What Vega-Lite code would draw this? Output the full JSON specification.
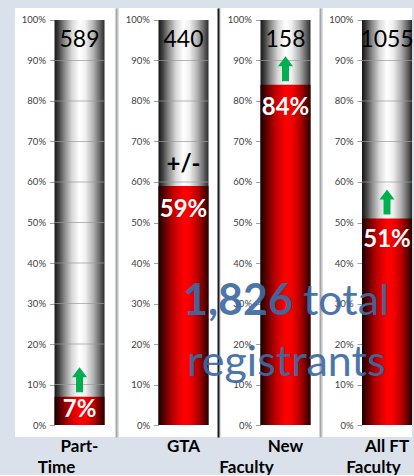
{
  "$schema": "https://vega.github.io/schema/vega-lite/v6.json",
  "background": "#dae1eb",
  "padding": {"left": 15, "top": 8, "right": 0, "bottom": 0},
  "spacing": 3,
  "bounds": "flush",
  "datasets": {
    "bars": [
      {"l1": "Part-", "l2": "Time", "count": "589", "pct": 0.07, "marker": "up"},
      {"l1": "GTA", "l2": "", "count": "440", "pct": 0.59, "marker": "+/-"},
      {"l1": "New", "l2": "Faculty", "count": "158", "pct": 0.84, "marker": "up"},
      {"l1": "All FT", "l2": "Faculty", "count": "1055", "pct": 0.51, "marker": "up"}
    ],
    "grid": [{"g": 0.1}, {"g": 0.2}, {"g": 0.3}, {"g": 0.4}, {"g": 0.5}, {"g": 0.6}, {"g": 0.7}, {"g": 0.8}, {"g": 0.9}],
    "note": [{"total": "1,826", "w1": "total", "w2": "registrants"}]
  },
  "data": {"name": "bars"},
  "hconcat": [
    {
      "width": 101, "height": 429,
      "view": {"fill": "white", "stroke": null},
      "transform": [{"filter": "datum.l1 === 'Part-'"}],
      "layer": [
        {"mark": {"type": "bar", "color": {"gradient": "linear", "x1": 0, "x2": 1, "y1": 0, "y2": 0, "stops": [{"offset": 0, "color": "#161616"}, {"offset": 0.08, "color": "#3e3e3e"}, {"offset": 0.2, "color": "#8a8a8a"}, {"offset": 0.35, "color": "#d8d8d8"}, {"offset": 0.5, "color": "#ffffff"}, {"offset": 0.62, "color": "#f0f0f0"}, {"offset": 0.78, "color": "#b0b0b0"}, {"offset": 0.9, "color": "#6a6a6a"}, {"offset": 1, "color": "#2a2a2a"}]}},
         "encoding": {
           "x": {"field": "l1", "type": "nominal", "scale": {"paddingInner": 0, "paddingOuter": 0.51, "align": 0.775}, "axis": {"title": "Time", "titleX": 41, "labelDx": 8}},
           "y": {"datum": 1, "type": "quantitative", "scale": {"domain": [-0.0296, 1.0296], "nice": false, "zero": false}, "axis": {"orient": "left", "offset": -39.5, "values": [0, 0.1, 0.2, 0.3, 0.4, 0.5, 0.6, 0.7, 0.8, 0.9, 1], "format": ".0%", "domain": false, "grid": false, "ticks": true, "tickSize": 5, "tickColor": "#a0a0a0", "labelPadding": 4, "labelFont": "Lato", "labelFontSize": 9.5, "labelColor": "#404040", "title": null, "minExtent": 0}},
           "y2": {"datum": 0}
         }},
        {"data": {"name": "grid"},
         "mark": {"type": "tick", "size": 50, "thickness": 1, "color": "#9a9a9a", "orient": "horizontal"},
         "encoding": {
           "x": {"datum": "Part-", "type": "nominal"},
           "y": {"field": "g", "type": "quantitative", "axis": {"orient": "right", "domain": true, "domainColor": "#a6a6a6", "domainWidth": 2, "ticks": false, "labels": false, "grid": false, "title": null, "minExtent": 0}}
         }},
        {"mark": {"type": "bar", "color": {"gradient": "linear", "x1": 0, "x2": 1, "y1": 0, "y2": 0, "stops": [{"offset": 0, "color": "#1a0000"}, {"offset": 0.12, "color": "#600000"}, {"offset": 0.3, "color": "#c00000"}, {"offset": 0.5, "color": "#ff0000"}, {"offset": 0.62, "color": "#f80000"}, {"offset": 0.8, "color": "#b00000"}, {"offset": 0.92, "color": "#600000"}, {"offset": 1, "color": "#2a0000"}]}},
         "encoding": {"x": {"field": "l1", "type": "nominal"}, "y": {"field": "pct", "type": "quantitative", "axis": null}, "y2": {"datum": 0}}},
        {"mark": {"type": "text", "font": "Lato", "fontSize": 23, "color": "#000", "baseline": "alphabetic", "dy": 27},
         "encoding": {"x": {"field": "l1", "type": "nominal"}, "y": {"datum": 1, "type": "quantitative", "axis": null}, "text": {"field": "count"}}},
        {"mark": {"type": "text", "font": "Lato", "fontSize": 24, "fontWeight": "bold", "color": "#fff", "baseline": "alphabetic", "dy": 20},
         "encoding": {"x": {"field": "l1", "type": "nominal"}, "y": {"field": "pct", "type": "quantitative", "axis": null}, "text": {"field": "pct", "format": ".0%"}}},
        {"transform": [{"filter": "datum.marker === 'up'"}],
         "mark": {"type": "point", "shape": "M0,-1L0.6,-0.2L0.28,-0.2L0.28,1L-0.28,1L-0.28,-0.2L-0.6,-0.2Z", "size": 625, "filled": true, "color": "#00b050", "opacity": 1, "yOffset": -17},
         "encoding": {"x": {"field": "l1", "type": "nominal"}, "y": {"field": "pct", "type": "quantitative", "axis": null}}}
      ],
      "resolve": {"axis": {"y": "independent"}}
    },
    {
      "width": 99, "height": 429,
      "view": {"fill": "white", "stroke": null},
      "transform": [{"filter": "datum.l1 === 'GTA'"}],
      "layer": [
        {"mark": {"type": "bar", "color": {"gradient": "linear", "x1": 0, "x2": 1, "y1": 0, "y2": 0, "stops": [{"offset": 0, "color": "#161616"}, {"offset": 0.08, "color": "#3e3e3e"}, {"offset": 0.2, "color": "#8a8a8a"}, {"offset": 0.35, "color": "#d8d8d8"}, {"offset": 0.5, "color": "#ffffff"}, {"offset": 0.62, "color": "#f0f0f0"}, {"offset": 0.78, "color": "#b0b0b0"}, {"offset": 0.9, "color": "#6a6a6a"}, {"offset": 1, "color": "#2a2a2a"}]}},
         "encoding": {
           "x": {"field": "l1", "type": "nominal", "scale": {"paddingInner": 0, "paddingOuter": 0.49, "align": 0.806}, "axis": {"title": null, "labelDx": -16.5}},
           "y": {"datum": 1, "type": "quantitative", "scale": {"domain": [-0.0296, 1.0296], "nice": false, "zero": false}, "axis": {"orient": "left", "offset": -39.5, "values": [0, 0.1, 0.2, 0.3, 0.4, 0.5, 0.6, 0.7, 0.8, 0.9, 1], "format": ".0%", "domain": false, "grid": false, "ticks": true, "tickSize": 5, "tickColor": "#a0a0a0", "labelPadding": 4, "labelFont": "Lato", "labelFontSize": 9.5, "labelColor": "#404040", "title": null, "minExtent": 0}},
           "y2": {"datum": 0}
         }},
        {"data": {"name": "grid"},
         "mark": {"type": "tick", "size": 50, "thickness": 1, "color": "#9a9a9a", "orient": "horizontal"},
         "encoding": {
           "x": {"datum": "GTA", "type": "nominal"},
           "y": {"field": "g", "type": "quantitative", "axis": {"orient": "right", "domain": true, "domainColor": "#1a1a1a", "domainWidth": 2, "ticks": false, "labels": false, "grid": false, "title": null, "minExtent": 0}}
         }},
        {"mark": {"type": "bar", "color": {"gradient": "linear", "x1": 0, "x2": 1, "y1": 0, "y2": 0, "stops": [{"offset": 0, "color": "#1a0000"}, {"offset": 0.12, "color": "#600000"}, {"offset": 0.3, "color": "#c00000"}, {"offset": 0.5, "color": "#ff0000"}, {"offset": 0.62, "color": "#f80000"}, {"offset": 0.8, "color": "#b00000"}, {"offset": 0.92, "color": "#600000"}, {"offset": 1, "color": "#2a0000"}]}},
         "encoding": {"x": {"field": "l1", "type": "nominal"}, "y": {"field": "pct", "type": "quantitative", "axis": null}, "y2": {"datum": 0}}},
        {"mark": {"type": "text", "font": "Lato", "fontSize": 23, "color": "#000", "baseline": "alphabetic", "dy": 27},
         "encoding": {"x": {"field": "l1", "type": "nominal"}, "y": {"datum": 1, "type": "quantitative", "axis": null}, "text": {"field": "count"}}},
        {"mark": {"type": "text", "font": "Lato", "fontSize": 24, "fontWeight": "bold", "color": "#fff", "baseline": "alphabetic", "dy": 31},
         "encoding": {"x": {"field": "l1", "type": "nominal"}, "y": {"field": "pct", "type": "quantitative", "axis": null}, "text": {"field": "pct", "format": ".0%"}}},
        {"mark": {"type": "text", "font": "Lato", "fontSize": 24, "fontWeight": "bold", "color": "#000", "baseline": "alphabetic", "dy": -14},
         "encoding": {"x": {"field": "l1", "type": "nominal"}, "y": {"field": "pct", "type": "quantitative", "axis": null}, "text": {"field": "marker"}}}
      ],
      "resolve": {"axis": {"y": "independent"}}
    },
    {
      "width": 99, "height": 429,
      "view": {"fill": "white", "stroke": null},
      "transform": [{"filter": "datum.l1 === 'New'"}],
      "layer": [
        {"mark": {"type": "bar", "color": {"gradient": "linear", "x1": 0, "x2": 1, "y1": 0, "y2": 0, "stops": [{"offset": 0, "color": "#161616"}, {"offset": 0.08, "color": "#3e3e3e"}, {"offset": 0.2, "color": "#8a8a8a"}, {"offset": 0.35, "color": "#d8d8d8"}, {"offset": 0.5, "color": "#ffffff"}, {"offset": 0.62, "color": "#f0f0f0"}, {"offset": 0.78, "color": "#b0b0b0"}, {"offset": 0.9, "color": "#6a6a6a"}, {"offset": 1, "color": "#2a2a2a"}]}},
         "encoding": {
           "x": {"field": "l1", "type": "nominal", "scale": {"paddingInner": 0, "paddingOuter": 0.49, "align": 0.806}, "axis": {"title": "Faculty", "titleX": 25, "labelDx": -5.5}},
           "y": {"datum": 1, "type": "quantitative", "scale": {"domain": [-0.0296, 1.0296], "nice": false, "zero": false}, "axis": {"orient": "left", "offset": -39.5, "values": [0, 0.1, 0.2, 0.3, 0.4, 0.5, 0.6, 0.7, 0.8, 0.9, 1], "format": ".0%", "domain": false, "grid": false, "ticks": true, "tickSize": 5, "tickColor": "#a0a0a0", "labelPadding": 4, "labelFont": "Lato", "labelFontSize": 9.5, "labelColor": "#404040", "title": null, "minExtent": 0}},
           "y2": {"datum": 0}
         }},
        {"data": {"name": "grid"},
         "mark": {"type": "tick", "size": 50, "thickness": 1, "color": "#9a9a9a", "orient": "horizontal"},
         "encoding": {
           "x": {"datum": "New", "type": "nominal"},
           "y": {"field": "g", "type": "quantitative", "axis": {"orient": "right", "domain": true, "domainColor": "#a6a6a6", "domainWidth": 2, "ticks": false, "labels": false, "grid": false, "title": null, "minExtent": 0}}
         }},
        {"mark": {"type": "bar", "color": {"gradient": "linear", "x1": 0, "x2": 1, "y1": 0, "y2": 0, "stops": [{"offset": 0, "color": "#1a0000"}, {"offset": 0.12, "color": "#600000"}, {"offset": 0.3, "color": "#c00000"}, {"offset": 0.5, "color": "#ff0000"}, {"offset": 0.62, "color": "#f80000"}, {"offset": 0.8, "color": "#b00000"}, {"offset": 0.92, "color": "#600000"}, {"offset": 1, "color": "#2a0000"}]}},
         "encoding": {"x": {"field": "l1", "type": "nominal"}, "y": {"field": "pct", "type": "quantitative", "axis": null}, "y2": {"datum": 0}}},
        {"mark": {"type": "text", "font": "Lato", "fontSize": 23, "color": "#000", "baseline": "alphabetic", "dy": 27},
         "encoding": {"x": {"field": "l1", "type": "nominal"}, "y": {"datum": 1, "type": "quantitative", "axis": null}, "text": {"field": "count"}}},
        {"mark": {"type": "text", "font": "Lato", "fontSize": 24, "fontWeight": "bold", "color": "#fff", "baseline": "alphabetic", "dy": 30},
         "encoding": {"x": {"field": "l1", "type": "nominal"}, "y": {"field": "pct", "type": "quantitative", "axis": null}, "text": {"field": "pct", "format": ".0%"}}},
        {"transform": [{"filter": "datum.marker === 'up'"}],
         "mark": {"type": "point", "shape": "M0,-1L0.6,-0.2L0.28,-0.2L0.28,1L-0.28,1L-0.28,-0.2L-0.6,-0.2Z", "size": 625, "filled": true, "color": "#00b050", "opacity": 1, "yOffset": -16},
         "encoding": {"x": {"field": "l1", "type": "nominal"}, "y": {"field": "pct", "type": "quantitative", "axis": null}}}
      ],
      "resolve": {"axis": {"y": "independent"}}
    },
    {
      "width": 89, "height": 429,
      "view": {"fill": "white", "stroke": null},
      "transform": [{"filter": "datum.l1 === 'All FT'"}],
      "layer": [
        {"mark": {"type": "bar", "color": {"gradient": "linear", "x1": 0, "x2": 1, "y1": 0, "y2": 0, "stops": [{"offset": 0, "color": "#161616"}, {"offset": 0.08, "color": "#3e3e3e"}, {"offset": 0.2, "color": "#8a8a8a"}, {"offset": 0.35, "color": "#d8d8d8"}, {"offset": 0.5, "color": "#ffffff"}, {"offset": 0.62, "color": "#f0f0f0"}, {"offset": 0.78, "color": "#b0b0b0"}, {"offset": 0.9, "color": "#6a6a6a"}, {"offset": 1, "color": "#2a2a2a"}]}},
         "encoding": {
           "x": {"field": "l1", "type": "nominal", "scale": {"paddingInner": 0, "paddingOuter": 0.39, "align": 1}, "axis": {"title": "Faculty", "titleX": 50, "labelDx": -15}},
           "y": {"datum": 1, "type": "quantitative", "scale": {"domain": [-0.0296, 1.0296], "nice": false, "zero": false}, "axis": {"orient": "left", "offset": -39, "values": [0, 0.1, 0.2, 0.3, 0.4, 0.5, 0.6, 0.7, 0.8, 0.9, 1], "format": ".0%", "domain": false, "grid": false, "ticks": true, "tickSize": 5, "tickColor": "#a0a0a0", "labelPadding": 4, "labelFont": "Lato", "labelFontSize": 9.5, "labelColor": "#404040", "title": null, "minExtent": 0}},
           "y2": {"datum": 0}
         }},
        {"data": {"name": "grid"},
         "mark": {"type": "tick", "size": 50, "thickness": 1, "color": "#9a9a9a", "orient": "horizontal"},
         "encoding": {
           "x": {"datum": "All FT", "type": "nominal"},
           "y": {"field": "g", "type": "quantitative", "axis": null}
         }},
        {"mark": {"type": "bar", "color": {"gradient": "linear", "x1": 0, "x2": 1, "y1": 0, "y2": 0, "stops": [{"offset": 0, "color": "#1a0000"}, {"offset": 0.12, "color": "#600000"}, {"offset": 0.3, "color": "#c00000"}, {"offset": 0.5, "color": "#ff0000"}, {"offset": 0.62, "color": "#f80000"}, {"offset": 0.8, "color": "#b00000"}, {"offset": 0.92, "color": "#600000"}, {"offset": 1, "color": "#2a0000"}]}},
         "encoding": {"x": {"field": "l1", "type": "nominal"}, "y": {"field": "pct", "type": "quantitative", "axis": null}, "y2": {"datum": 0}}},
        {"mark": {"type": "text", "font": "Lato", "fontSize": 23, "color": "#000", "baseline": "alphabetic", "dy": 27},
         "encoding": {"x": {"field": "l1", "type": "nominal"}, "y": {"datum": 1, "type": "quantitative", "axis": null}, "text": {"field": "count"}}},
        {"mark": {"type": "text", "font": "Lato", "fontSize": 24, "fontWeight": "bold", "color": "#fff", "baseline": "alphabetic", "dy": 29},
         "encoding": {"x": {"field": "l1", "type": "nominal"}, "y": {"field": "pct", "type": "quantitative", "axis": null}, "text": {"field": "pct", "format": ".0%"}}},
        {"transform": [{"filter": "datum.marker === 'up'"}],
         "mark": {"type": "point", "shape": "M0,-1L0.6,-0.2L0.28,-0.2L0.28,1L-0.28,1L-0.28,-0.2L-0.6,-0.2Z", "size": 625, "filled": true, "color": "#00b050", "opacity": 1, "yOffset": -16.5},
         "encoding": {"x": {"field": "l1", "type": "nominal"}, "y": {"field": "pct", "type": "quantitative", "axis": null}}},
        {"data": {"name": "note"},
         "mark": {"type": "text", "font": "Lato", "fontSize": 43, "fontWeight": "bold", "color": "#3d6ba3", "opacity": 0.92, "align": "left", "baseline": "alphabetic", "dx": -204},
         "encoding": {"x": {"datum": "All FT", "type": "nominal"}, "y": {"datum": 0.2716, "type": "quantitative", "axis": null}, "text": {"field": "total"}}},
        {"data": {"name": "note"},
         "mark": {"type": "text", "font": "Lato", "fontSize": 43, "color": "#3d6ba3", "opacity": 0.92, "align": "left", "baseline": "alphabetic", "dx": -84},
         "encoding": {"x": {"datum": "All FT", "type": "nominal"}, "y": {"datum": 0.2716, "type": "quantitative", "axis": null}, "text": {"field": "w1"}}},
        {"data": {"name": "note"},
         "mark": {"type": "text", "font": "Lato", "fontSize": 43, "color": "#3d6ba3", "opacity": 0.92, "align": "left", "baseline": "alphabetic", "dx": -200},
         "encoding": {"x": {"datum": "All FT", "type": "nominal"}, "y": {"datum": 0.121, "type": "quantitative", "axis": null}, "text": {"field": "w2"}}}
      ],
      "resolve": {"axis": {"y": "independent"}}
    }
  ],
  "config": {
    "font": "Lato",
    "view": {"stroke": null},
    "axisX": {"ticks": false, "domain": false, "grid": false, "labelAngle": 0, "labelFont": "Lato", "labelFontSize": 17, "labelFontWeight": "bold", "labelColor": "#000", "labelPadding": 1, "labelBaseline": "top", "titleFont": "Lato", "titleFontSize": 17, "titleFontWeight": "bold", "titleColor": "#000", "titleAlign": "center", "titleBaseline": "top", "titleY": 22, "titlePadding": 0}
  }
}
